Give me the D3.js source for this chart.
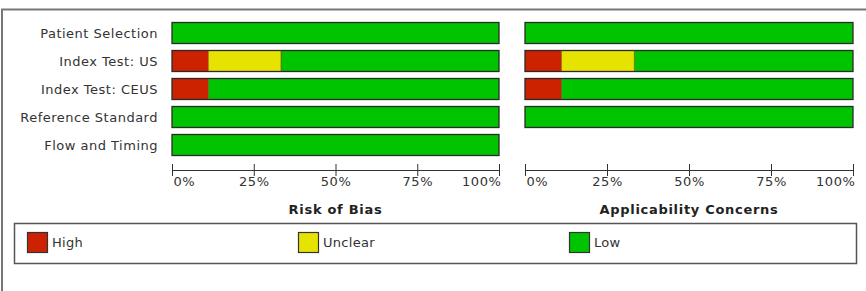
<!DOCTYPE html>
<html>
<head>
<meta charset="utf-8">
<script src="https://cdn.jsdelivr.net/npm/d3@7"></script>
<style>
  body { margin: 0; background: #fff; }
  svg { display: block; font-family: "DejaVu Sans", sans-serif; }
</style>
</head>
<body>
<script>
const domains = ["Patient Selection", "Index Test: US", "Index Test: CEUS", "Reference Standard", "Flow and Timing"];
const levels = ["High", "Unclear", "Low"];

// number of studies (of 9) per judgement
const biasHigh = [0, 1, 1, 0, 0];
const biasUnclear = [0, 2, 0, 0, 0];
const biasLow = [9, 6, 8, 9, 9];

const applicHigh = [0, 1, 1, 0];
const applicUnclear = [0, 2, 0, 0];
const applicLow = [9, 6, 8, 9];

const tickValues = [0, 0.25, 0.5, 0.75, 1];

const WIDTH = 866;
const HEIGHT = 291;
const ROW_TOP = 22;
const ROW_STEP = 28;
const BAR_HEIGHT = 21;
const AXIS_Y = 170;

const color = d3.scaleOrdinal()
  .domain(levels)
  .range(["#cc2200", "#e6e300", "#00c400"]);

const svg = d3.select("body").append("svg")
  .attr("width", WIDTH)
  .attr("height", HEIGHT);

// outer frame (top and left edges only visible)
svg.append("path")
  .attr("d", "M2,291V9.5H866")
  .attr("fill", "none")
  .attr("stroke", "#777")
  .attr("stroke-width", 2);

const y = d3.scaleBand()
  .domain(domains)
  .range([ROW_TOP, ROW_TOP + ROW_STEP * (domains.length - 1) + BAR_HEIGHT])
  .paddingInner(1 - BAR_HEIGHT / ROW_STEP)
  .paddingOuter(0)
  .align(0);

function toRows(names, high, unclear, low) {
  return names.map((name, i) => {
    const total = high[i] + unclear[i] + low[i];
    return { name, High: high[i] / total, Unclear: unclear[i] / total, Low: low[i] / total };
  });
}

function drawPanel(x0, x1, rows, title) {
  const x = d3.scaleLinear().domain([0, 1]).range([x0, x1]);
  const g = svg.append("g");

  const series = d3.stack().keys(levels)(rows);
  g.selectAll("g.series")
    .data(series)
    .join("g")
    .attr("class", "series")
    .attr("fill", (d) => color(d.key))
    .selectAll("rect")
    .data((d) => d.filter((v) => v[1] > v[0]))
    .join("rect")
    .attr("x", (d) => x(d[0]))
    .attr("width", (d) => x(d[1]) - x(d[0]))
    .attr("y", (d) => y(d.data.name) + 0.5)
    .attr("height", y.bandwidth());

  // outline around whole bar
  g.selectAll("rect.outline")
    .data(rows)
    .join("rect")
    .attr("class", "outline")
    .attr("x", x(0))
    .attr("width", x(1) - x(0))
    .attr("y", (d) => y(d.name) + 0.5)
    .attr("height", y.bandwidth())
    .attr("fill", "none")
    .attr("stroke", "#2a2a2a")
    .attr("stroke-width", 1.3);

  // thin separators between segments
  g.selectAll("line.sep")
    .data(series.slice(0, 2).flatMap((s) => s.filter((v) => v[1] > v[0] && v[1] < 1)))
    .join("line")
    .attr("class", "sep")
    .attr("x1", (d) => x(d[1]))
    .attr("x2", (d) => x(d[1]))
    .attr("y1", (d) => y(d.data.name) + 0.5)
    .attr("y2", (d) => y(d.data.name) + 0.5 + y.bandwidth())
    .attr("stroke", "#7a3a10")
    .attr("stroke-width", 0.6);

  const axis = d3.axisBottom(x)
    .tickValues(tickValues)
    .tickFormat(d3.format(".0%"))
    .tickSizeOuter(0)
    .tickSizeInner(6);

  const ax = g.append("g")
    .attr("transform", `translate(0,${AXIS_Y})`)
    .call(axis);

  ax.select(".domain").attr("stroke", "#333").attr("d", `M${x0},0.5H${x1}`);
  ax.selectAll(".tick line")
    .attr("y1", -6)
    .attr("y2", 6)
    .attr("stroke", "#333");
  ax.selectAll(".tick text")
    .attr("y", 7)
    .attr("font-size", 13)
    .attr("letter-spacing", 0.6)
    .attr("font-family", "DejaVu Sans, sans-serif")
    .attr("fill", "#333")
    .attr("text-anchor", (d) => (d === 0 ? "start" : d === 1 ? "end" : "middle"))
    .attr("dx", (d) => (d === 0 ? 1 : d === 1 ? 2 : 0));

  g.append("text")
    .attr("x", (x0 + x1) / 2)
    .attr("y", 214)
    .attr("text-anchor", "middle")
    .attr("font-size", 13)
    .attr("letter-spacing", 0.7)
    .attr("font-weight", "bold")
    .attr("fill", "#222")
    .text(title);
}

// row labels
svg.append("g")
  .selectAll("text")
  .data(domains)
  .join("text")
  .attr("x", 158)
  .attr("y", (d) => y(d) + y.bandwidth() / 2 + 5.5)
  .attr("text-anchor", "end")
  .attr("font-size", 13)
  .attr("letter-spacing", 0.5)
  .attr("fill", "#333")
  .text((d) => d);

drawPanel(172, 499, toRows(domains, biasHigh, biasUnclear, biasLow), "Risk of Bias");
drawPanel(525, 853, toRows(domains.slice(0, 4), applicHigh, applicUnclear, applicLow), "Applicability Concerns");

// legend
const legend = svg.append("g");
legend.append("rect")
  .attr("x", 14.5)
  .attr("y", 223.5)
  .attr("width", 842)
  .attr("height", 40)
  .attr("fill", "none")
  .attr("stroke", "#555")
  .attr("stroke-width", 1.5);

const legendX = d3.scalePoint().domain(levels).range([27, 569]);
const item = legend.selectAll("g.item")
  .data(levels)
  .join("g")
  .attr("class", "item")
  .attr("transform", (d) => `translate(${legendX(d)},232)`);
item.append("rect")
  .attr("x", 0.5)
  .attr("y", 0.5)
  .attr("width", 20)
  .attr("height", 20)
  .attr("fill", (d) => color(d))
  .attr("stroke", "#333")
  .attr("stroke-width", 1.2);
item.append("text")
  .attr("x", 25)
  .attr("y", 15)
  .attr("font-size", 13)
  .attr("letter-spacing", 0.3)
  .attr("fill", "#333")
  .text((d) => d);
</script>
</body>
</html>
